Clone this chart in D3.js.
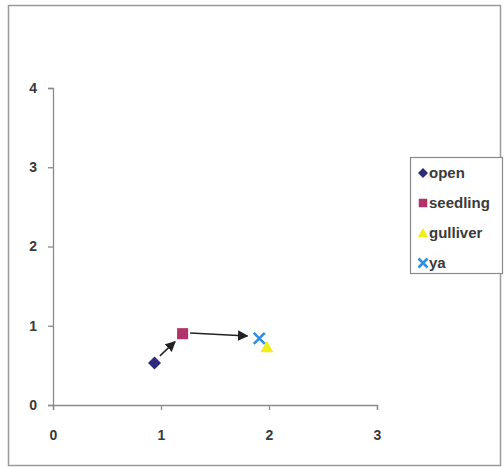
<!DOCTYPE html>
<html><head><meta charset="utf-8">
<script src="https://cdn.jsdelivr.net/npm/d3@7"></script>
<style>body{margin:0;background:#fff}svg{display:block}</style>
</head><body><svg id="c" width="504" height="467"></svg>
<script>
const seriesNames = ["open", "seedling", "gulliver", "ya"];
const xValues = [0.94, 1.20, 1.98, 1.91];
const yValues = [0.53, 0.90, 0.73, 0.84];
const seriesColors = ["#2e2a7c", "#b0336a", "#f2ee1a", "#2f8fe3"];
const seriesSymbols = ["diamond", "square", "triangle", "x"];
const xTicks = [0, 1, 2, 3];
const yTicks = [0, 1, 2, 3, 4];
const arrowFrom = [[0.99, 0.62], [1.27, 0.91]];
const arrowTo = [[1.13, 0.80], [1.80, 0.87]];

const svg = d3.select("#c");
const x = d3.scaleLinear().domain([0, 3]).range([53, 377]);
const y = d3.scaleLinear().domain([0, 4]).range([405, 88]);
const font = "Arial, 'Liberation Sans', sans-serif";

svg.append("rect").attr("x", 8.5).attr("y", 5.5).attr("width", 492).attr("height", 460)
  .attr("fill", "none").attr("stroke", "#9a9a9a").attr("stroke-width", 1.5);

const axisColor = "#8a8a8a";
const xa = svg.append("g").attr("transform", `translate(0,${y(0)})`)
  .call(d3.axisBottom(x).tickValues(xTicks).tickSize(5).tickPadding(20).tickFormat(d3.format("d")));
const ya = svg.append("g").attr("transform", `translate(${x(0)},0)`)
  .call(d3.axisLeft(y).tickValues(yTicks).tickSize(5).tickPadding(11).tickFormat(d3.format("d")));
[xa, ya].forEach(a => {
  a.selectAll("path,line").attr("stroke", axisColor).attr("stroke-width", 1.3);
  a.selectAll("text").attr("fill", "#3a3a3a").style("font-family", font)
    .style("font-size", "14px").style("font-weight", "bold");
});

svg.append("defs").append("marker").attr("id", "ah").attr("viewBox", "0 0 10 10")
  .attr("refX", 9).attr("refY", 5).attr("markerWidth", 7).attr("markerHeight", 7)
  .attr("orient", "auto").append("path").attr("d", "M0,0 L10,5 L0,10 z").attr("fill", "#222");

svg.selectAll("line.arrow").data(d3.range(arrowFrom.length)).enter().append("line")
  .attr("class", "arrow")
  .attr("x1", i => x(arrowFrom[i][0])).attr("y1", i => y(arrowFrom[i][1]))
  .attr("x2", i => x(arrowTo[i][0])).attr("y2", i => y(arrowTo[i][1]))
  .attr("stroke", "#222").attr("stroke-width", 1.5).attr("marker-end", "url(#ah)");

function marker(g, sym, color, size) {
  const s = size / 2;
  if (sym === "x") {
    g.append("path").attr("d", `M${-s},${-s}L${s},${s}M${-s},${s}L${s},${-s}`)
      .attr("stroke", color).attr("stroke-width", 2.6).attr("fill", "none");
  } else if (sym === "diamond") {
    g.append("path").attr("d", `M0,${-s}L${s},0L0,${s}L${-s},0Z`).attr("fill", color);
  } else if (sym === "square") {
    g.append("rect").attr("x", -s * 0.85).attr("y", -s * 0.85).attr("width", size * 0.85).attr("height", size * 0.85).attr("fill", color);
  } else {
    g.append("path").attr("d", `M0,${-s}L${s},${s * 0.8}L${-s},${s * 0.8}Z`).attr("fill", color);
  }
}

seriesNames.forEach((n, i) => {
  const g = svg.append("g").attr("transform", `translate(${x(xValues[i])},${y(yValues[i])})`);
  marker(g, seriesSymbols[i], seriesColors[i], i === 3 ? 11 : 13);
});

const lg = svg.append("g");
lg.append("rect").attr("x", 410.5).attr("y", 157.5).attr("width", 92).attr("height", 116)
  .attr("fill", "#fff").attr("stroke", "#8a8a8a").attr("stroke-width", 1.2);
seriesNames.forEach((n, i) => {
  const cy = 173 + i * 30;
  const g = lg.append("g").attr("transform", `translate(423,${cy})`);
  marker(g, seriesSymbols[i], seriesColors[i], i === 3 ? 9 : 10);
  lg.append("text").attr("x", 429).attr("y", cy + 5).text(n)
    .attr("fill", "#3a3a3a").style("font-family", font)
    .style("font-size", "15px").style("font-weight", "bold");
});
</script></body></html>
